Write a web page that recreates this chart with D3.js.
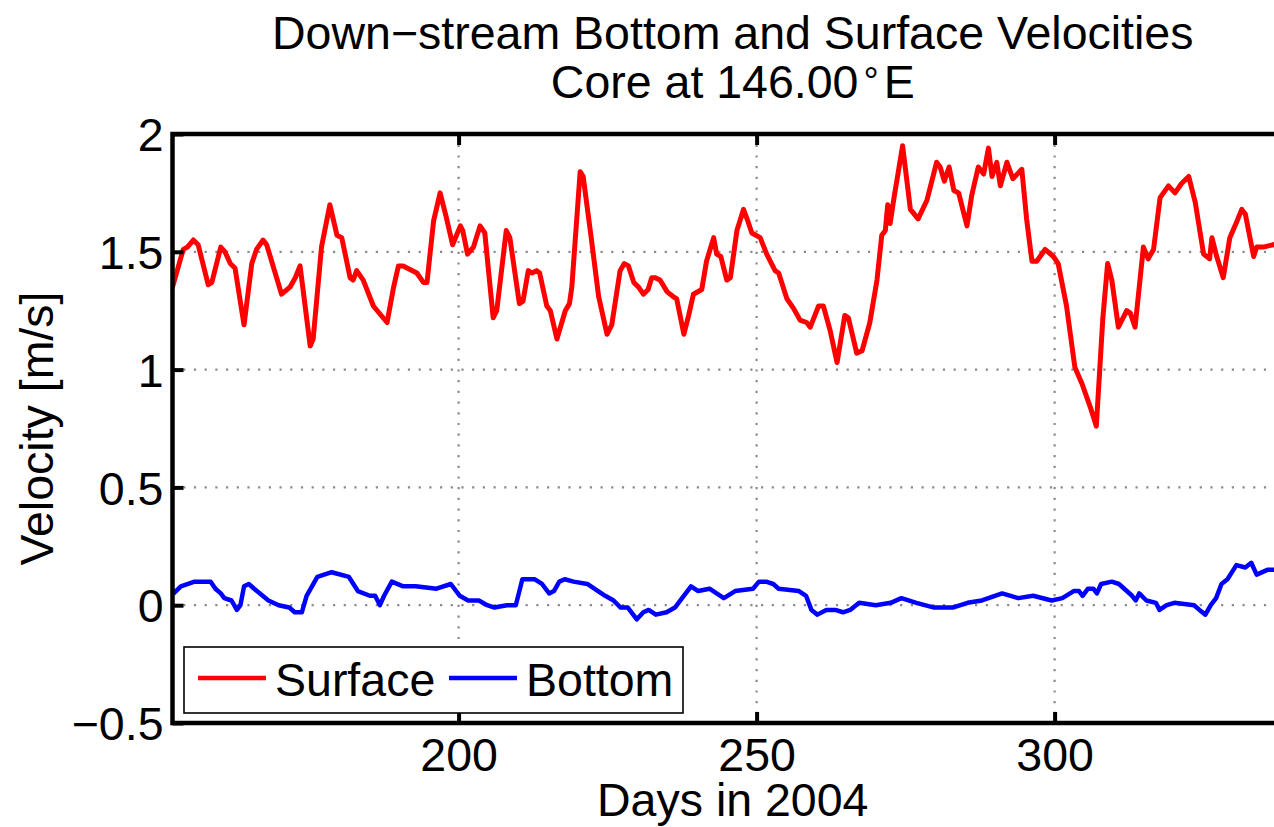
<!DOCTYPE html>
<html>
<head>
<meta charset="utf-8">
<script src="https://cdn.jsdelivr.net/npm/d3@7"></script>
<style>
  html, body { margin: 0; padding: 0; background: #fff; }
  svg { display: block; }
  text { font-family: "Liberation Sans", Arial, Helvetica, sans-serif; fill: #000; }
</style>
</head>
<body>
<svg id="chart" width="1274" height="827"></svg>
<script>
// ---------------- data ----------------
const surfaceDays = [152.0,153.8,154.5,155.5,156.3,158.0,158.6,160.1,160.8,161.7,162.5,164.0,165.3,166.1,167.2,167.8,170.3,171.7,172.6,173.4,175.1,175.6,177.0,178.4,179.6,180.4,181.8,182.3,182.9,184.0,185.7,188.0,189.1,189.9,190.7,193.0,194.1,194.7,195.8,196.9,197.9,199.0,200.3,200.7,201.5,202.5,203.6,204.4,205.8,206.4,208.0,208.6,210.2,210.8,211.7,212.3,213.1,213.6,214.8,215.4,216.5,217.9,218.6,219.0,220.4,220.9,222.3,223.5,224.9,225.7,227.1,227.8,228.5,229.4,230.2,231.0,231.8,232.4,233.0,233.8,235.0,236.0,236.6,237.8,238.6,239.4,240.8,241.6,242.8,243.3,244.0,245.0,245.6,246.7,247.8,248.4,249.2,250.6,251.7,253.1,253.7,255.1,256.2,257.3,258.4,259.0,260.4,261.2,262.3,263.5,264.8,265.4,266.8,267.7,269.0,270.2,271.0,271.6,272.0,272.4,273.0,274.5,275.8,277.1,278.6,280.2,280.8,281.5,282.3,283.1,283.9,285.3,286.1,287.2,288.1,288.9,289.5,290.3,290.9,292.0,293.0,294.5,295.3,296.2,297.0,298.4,299.8,300.6,302.0,303.4,304.6,306.0,307.0,308.1,308.9,309.6,310.7,312.1,312.7,313.5,314.9,315.7,316.6,317.7,319.1,320.2,321.3,322.5,323.6,325.0,326.0,326.4,327.2,328.3,329.4,330.6,331.4,332.0,333.4,333.9,335.0,336.7,338.5];
const surfaceVel = [1.35,1.51,1.52,1.55,1.53,1.36,1.37,1.52,1.50,1.45,1.43,1.19,1.45,1.51,1.55,1.53,1.32,1.35,1.39,1.44,1.10,1.13,1.52,1.70,1.57,1.56,1.39,1.38,1.42,1.38,1.27,1.20,1.35,1.44,1.44,1.41,1.37,1.37,1.63,1.75,1.65,1.53,1.61,1.59,1.49,1.52,1.61,1.58,1.22,1.25,1.59,1.56,1.28,1.29,1.42,1.41,1.42,1.41,1.27,1.25,1.13,1.25,1.28,1.35,1.84,1.82,1.55,1.31,1.15,1.19,1.42,1.45,1.44,1.37,1.35,1.32,1.34,1.39,1.39,1.38,1.33,1.31,1.30,1.15,1.23,1.32,1.34,1.46,1.56,1.49,1.48,1.38,1.39,1.59,1.68,1.64,1.58,1.56,1.49,1.42,1.41,1.30,1.26,1.21,1.20,1.18,1.27,1.27,1.17,1.03,1.23,1.22,1.07,1.08,1.20,1.38,1.57,1.59,1.70,1.62,1.72,1.95,1.68,1.64,1.72,1.88,1.86,1.80,1.86,1.76,1.75,1.61,1.74,1.86,1.83,1.94,1.82,1.88,1.78,1.88,1.81,1.85,1.64,1.46,1.46,1.51,1.48,1.45,1.27,1.01,0.94,0.84,0.76,1.22,1.45,1.38,1.18,1.25,1.24,1.18,1.52,1.47,1.51,1.73,1.78,1.75,1.79,1.82,1.71,1.49,1.47,1.56,1.48,1.39,1.56,1.63,1.68,1.66,1.48,1.52,1.52,1.53,1.54];

const bottomDays = [152.2,153.4,155.7,158.4,159.2,160.1,160.7,161.9,162.8,163.4,164.0,164.8,165.7,168.1,169.8,171.6,172.5,173.7,174.5,176.3,178.7,181.6,183.1,185.1,186.0,186.8,187.5,188.8,190.7,192.8,196.3,198.7,200.2,201.6,203.4,204.8,206.0,208.1,209.6,210.7,212.8,214.0,215.2,216.0,216.9,217.8,219.3,221.6,223.4,224.6,226.0,227.2,228.4,229.9,231.0,231.9,233.1,234.9,236.3,237.5,239.0,240.2,242.1,244.5,246.4,249.4,250.4,251.6,252.8,253.7,257.1,258.3,259.2,260.2,261.7,263.2,264.5,265.7,267.2,270.0,272.5,274.3,276.8,279.8,282.9,285.4,287.8,291.2,293.9,296.4,299.5,301.3,303.2,304.1,304.7,305.6,306.5,307.1,307.8,309.6,310.8,313.0,313.6,314.2,315.4,317.0,317.6,318.8,320.1,323.4,324.3,325.3,326.2,327.1,328.0,329.0,330.5,332.0,333.0,333.9,335.7,336.8,338.5];
const bottomVel = [0.05,0.08,0.10,0.10,0.07,0.05,0.03,0.02,-0.02,0.00,0.08,0.09,0.07,0.02,0.00,-0.01,-0.03,-0.03,0.04,0.12,0.14,0.12,0.06,0.04,0.04,0.00,0.04,0.10,0.08,0.08,0.07,0.09,0.04,0.02,0.02,0.00,-0.01,0.00,0.00,0.11,0.11,0.09,0.05,0.06,0.10,0.11,0.10,0.09,0.06,0.04,0.02,-0.01,-0.01,-0.06,-0.03,-0.02,-0.04,-0.03,-0.01,0.03,0.08,0.06,0.07,0.03,0.06,0.07,0.10,0.10,0.09,0.07,0.06,0.04,-0.02,-0.04,-0.02,-0.02,-0.03,-0.02,0.01,0.00,0.01,0.03,0.01,-0.01,-0.01,0.01,0.02,0.05,0.03,0.04,0.02,0.03,0.06,0.06,0.04,0.07,0.07,0.05,0.09,0.10,0.09,0.04,0.02,0.05,0.02,0.01,-0.02,0.00,0.01,0.00,-0.02,-0.04,0.00,0.03,0.09,0.11,0.17,0.16,0.18,0.13,0.15,0.15,0.15];

const xTicks = [200, 250, 300];
const xTickLabels = ["200", "250", "300"];
const yTicks = [-0.5, 0, 0.5, 1, 1.5, 2];
const yTickLabels = ["\u22120.5", "0", "0.5", "1", "1.5", "2"];
const seriesNames = ["Surface", "Bottom"];
const seriesColors = ["#ff0000", "#0000ff"];

// ---------------- layout ----------------
const svg = d3.select("#chart");
const L = 172.5, R = 1293, T = 134, B = 723;
const x = d3.scaleLinear().domain([152, 340]).range([L, R]);
const y = d3.scaleLinear().domain([-0.5, 2]).range([B, T]);
const FS = 46.5;

svg.append("defs").append("clipPath").attr("id", "clip")
  .append("rect").attr("x", L).attr("y", T).attr("width", R - L).attr("height", B - T);

// grid
const grid = svg.append("g");
grid.selectAll("line.gx").data(xTicks).join("line")
  .attr("x1", d => x(d)).attr("x2", d => x(d)).attr("y1", T).attr("y2", B)
  .attr("stroke", "#8a8a8a").attr("stroke-width", 2.2).attr("stroke-dasharray", "2.2 8.5");
grid.selectAll("line.gy").data(yTicks).join("line")
  .attr("y1", d => y(d)).attr("y2", d => y(d)).attr("x1", L).attr("x2", R)
  .attr("stroke", "#8a8a8a").attr("stroke-width", 2.2).attr("stroke-dasharray", "2.2 8.5");

// series
const line = d3.line().x(d => x(d[0])).y(d => y(d[1]));
const plot = svg.append("g").attr("clip-path", "url(#clip)");
plot.append("path").datum(bottomDays.map((d, i) => [d, bottomVel[i]]))
  .attr("d", line).attr("fill", "none").attr("stroke", seriesColors[1])
  .attr("stroke-width", 4.5).attr("stroke-linejoin", "round").attr("stroke-linecap", "round");
plot.append("path").datum(surfaceDays.map((d, i) => [d, surfaceVel[i]]))
  .attr("d", line).attr("fill", "none").attr("stroke", seriesColors[0])
  .attr("stroke-width", 5).attr("stroke-linejoin", "round").attr("stroke-linecap", "round");

// axes (ticks inward)
const TL = 11;
const xAxisB = d3.axisBottom(x).tickValues(xTicks).tickSize(-TL).tickPadding(TL + 8)
  .tickFormat((d, i) => xTickLabels[i]);
const gxb = svg.append("g").attr("transform", `translate(0,${B})`).call(xAxisB);
const xAxisT = d3.axisTop(x).tickValues(xTicks).tickSize(-TL).tickFormat("");
const gxt = svg.append("g").attr("transform", `translate(0,${T})`).call(xAxisT);
const yAxisL = d3.axisLeft(y).tickValues(yTicks).tickSize(-TL).tickPadding(TL + 10)
  .tickFormat((d, i) => yTickLabels[i]);
const gyl = svg.append("g").attr("transform", `translate(${L},0)`).call(yAxisL);

[gxb, gxt, gyl].forEach(g => {
  g.select(".domain").remove();
  g.selectAll(".tick line").attr("stroke", "#000").attr("stroke-width", 4);
  g.selectAll(".tick text").style("font-size", FS + "px")
    .style("font-family", '"Liberation Sans", Arial, Helvetica, sans-serif').attr("fill", "#000");
});
gxb.selectAll(".tick text").attr("dy", null).attr("y", 48);
gyl.selectAll(".tick text").attr("dy", "0.36em").attr("x", -9);

// box
svg.append("rect").attr("x", L).attr("y", T).attr("width", R - L).attr("height", B - T)
  .attr("fill", "none").attr("stroke", "#000").attr("stroke-width", 4.5);

// titles
const cx = (L + R) / 2;
svg.append("text").attr("x", cx).attr("y", 49).attr("text-anchor", "middle")
  .style("font-size", FS + "px").text("Down\u2212stream Bottom and Surface Velocities");
const t2 = svg.append("text").attr("x", cx).attr("y", 98).attr("text-anchor", "middle")
  .style("font-size", FS + "px");
t2.append("tspan").text("Core at 146.00");
t2.append("tspan").attr("dx", 5).attr("dy", -4).style("font-size", "38px").text("\u00b0");
t2.append("tspan").attr("dx", 5).attr("dy", 4).text("E");

svg.append("text").attr("x", cx).attr("y", 816).attr("text-anchor", "middle")
  .style("font-size", FS + "px").text("Days in 2004");
svg.append("text").attr("transform", `translate(53,${(T + B) / 2}) rotate(-90)`)
  .attr("text-anchor", "middle").style("font-size", FS + "px").text("Velocity [m/s]");

// legend
const lg = svg.append("g");
lg.append("rect").attr("x", 184).attr("y", 647).attr("width", 499).attr("height", 66)
  .attr("fill", "#fff").attr("stroke", "#000").attr("stroke-width", 1.6);
const legendItems = [
  { name: seriesNames[0], color: seriesColors[0], x0: 198 },
  { name: seriesNames[1], color: seriesColors[1], x0: 449 }
];
legendItems.forEach(it => {
  lg.append("line").attr("x1", it.x0).attr("x2", it.x0 + 68).attr("y1", 678).attr("y2", 678)
    .attr("stroke", it.color).attr("stroke-width", 4.5);
  lg.append("text").attr("x", it.x0 + 77).attr("y", 695.5).style("font-size", FS + "px").text(it.name);
});
</script>
</body>
</html>
